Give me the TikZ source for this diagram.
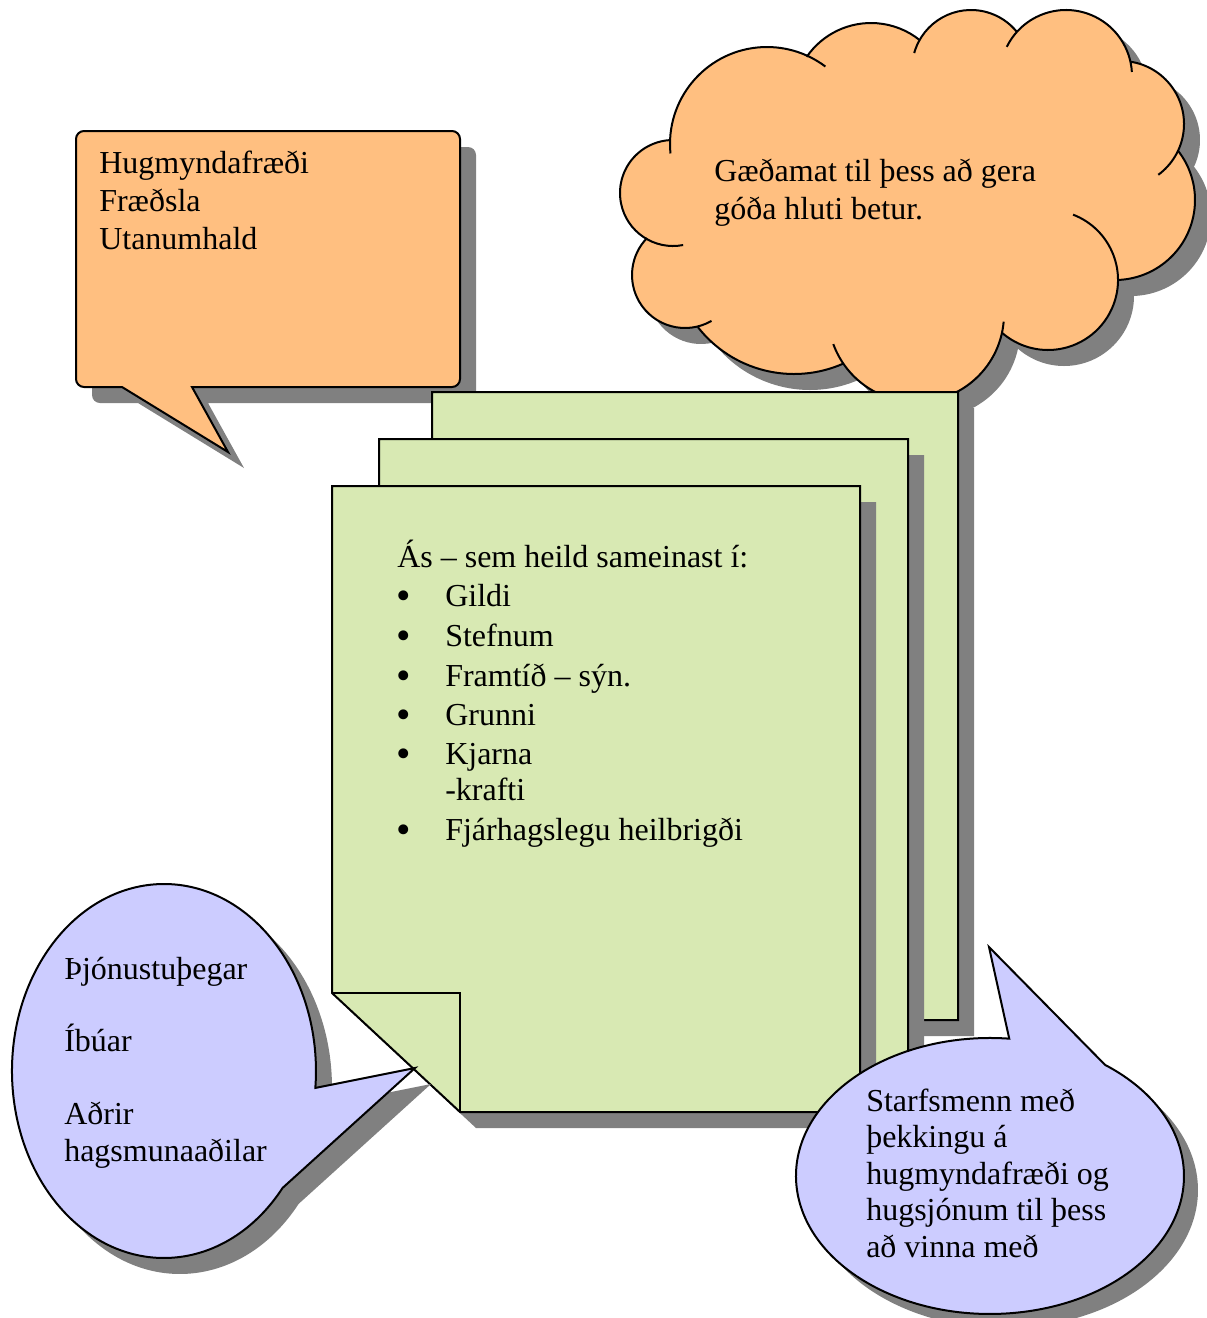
\documentclass[tikz,border=0pt]{standalone}
\usepackage{fontspec}
\setmainfont{Liberation Serif}
\definecolor{orangefill}{RGB}{255,191,128}
\definecolor{pagegreen}{RGB}{216,233,179}
\definecolor{bubbleblue}{RGB}{204,204,255}
\definecolor{shadowgray}{RGB}{128,128,128}
\begin{document}
\begin{tikzpicture}[x=0.75pt,y=-0.75pt,
  outl/.style={draw=black,line width=1.5pt,line join=miter},
  shad/.style={fill=shadowgray,draw=none},
  bigtxt/.style={anchor=base west,inner sep=0pt,align=left,font=\fontsize{24}{28.5}\selectfont},
  doctxt/.style={anchor=base west,inner sep=0pt,font=\fontsize{24}{28.5}\selectfont},
  bul/.style={anchor=base,inner sep=0pt,font=\fontsize{31}{31}\selectfont},
  bubtxt/.style={anchor=base west,inner sep=0pt,align=left,font=\fontsize{24}{27.3}\selectfont},
]
\useasboundingbox (0,0) rectangle (1207,1318);

% ---------- paths ----------
\def\calloutpath{(84,131) -- (452,131) arc[start angle=270,end angle=360,radius=8]
  -- (460,379) arc[start angle=0,end angle=90,radius=8]
  -- (192,387) -- (228,452) -- (122,387)
  -- (84,387) arc[start angle=90,end angle=180,radius=8]
  -- (76,139) arc[start angle=180,end angle=270,radius=8] -- cycle}
\def\cloudpath{([shift={(182.4:97)}]767,144) arc[start angle=182.4,end angle=294.7,radius=97]
  -- ([shift={(214.5:78)}]871,101) arc[start angle=214.5,end angle=308.8,radius=78]
  -- ([shift={(209.6:59)}]971,69) arc[start angle=209.6,end angle=321.2,radius=59]
  -- ([shift={(221.9:66)}]1066,76) arc[start angle=221.9,end angle=347.7,radius=66]
  -- ([shift={(278.3:63)}]1121,124) arc[start angle=278.3,end angle=384.5,radius=63]
  -- ([shift={(321.6:80)}]1115,200) arc[start angle=321.6,end angle=447.9,radius=80]
  -- ([shift={(0:70)}]1048,280) arc[start angle=0,end angle=131,radius=70]
  -- ([shift={(12.5:88)}]916,314) arc[start angle=12.5,end angle=146.1,radius=88]
  -- ([shift={(66.2:122)}]794,252) arc[start angle=66.2,end angle=142,radius=122]
  -- ([shift={(76:53)}]685,275) arc[start angle=76,end angle=224.2,radius=53]
  -- ([shift={(120:53)}]673,193) arc[start angle=120,end angle=266.8,radius=53] -- cycle}
\def\backpage{(432,392) -- (958,392) -- (958,1020) -- (560,1020) -- (432,901) -- cycle}
\def\midpage{(379,439) -- (908,439) -- (908,1066) -- (507,1066) -- (379,947) -- cycle}
\def\frontpage{(332,486) -- (860,486) -- (860,1112) -- (460,1112) -- (332,993) -- cycle}
\def\rbubble{(1105.1,1064.9) arc[start angle=306.4,end angle=635.7,x radius=194,y radius=138] -- (989,947) -- cycle}
\def\lbubble{(282.6,1187.9) arc[start angle=38.7,end angle=365.2,x radius=152,y radius=187] -- (415,1068) -- cycle}

% ---------- top-left callout ----------
\fill[shad,shift={(16,16)}] \calloutpath;
\fill[orangefill] \calloutpath;
\draw[outl] \calloutpath;
\node[bigtxt] (callouttext) at (99,249) {Hugmyndafræði\\Fræðsla\\Utanumhald};

% ---------- cloud ----------
\fill[shad,shift={(16,16)}] \cloudpath;
\fill[orangefill] \cloudpath;
\begin{scope}[outl]
\draw ([shift={(174.4:97)}]767,144) arc[start angle=174.4,end angle=307,radius=97];
\draw ([shift={(214.5:78)}]871,101) arc[start angle=214.5,end angle=308.8,radius=78];
\draw ([shift={(195.7:59)}]971,69) arc[start angle=195.7,end angle=321.2,radius=59];
\draw ([shift={(206.2:66)}]1066,76) arc[start angle=206.2,end angle=356.5,radius=66];
\draw ([shift={(278.3:63)}]1121,124) arc[start angle=278.3,end angle=413.7,radius=63];
\draw ([shift={(321.6:80)}]1115,200) arc[start angle=321.6,end angle=447.9,radius=80];
\draw ([shift={(-69:70)}]1048,280) arc[start angle=-69,end angle=131,radius=70];
\draw ([shift={(5:88)}]916,314) arc[start angle=5,end angle=160,radius=88];
\draw ([shift={(66.2:122)}]794,252) arc[start angle=66.2,end angle=142,radius=122];
\draw ([shift={(60:53)}]685,275) arc[start angle=60,end angle=224.2,radius=53];
\draw ([shift={(79:53)}]673,193) arc[start angle=79,end angle=266.8,radius=53];
\end{scope}
\node[bigtxt] (cloudtext) at (714,219) {Gæðamat til þess að gera\\góða hluti betur.};

% ---------- document stack ----------
\fill[shad,shift={(16,16)}] \backpage;
\filldraw[fill=pagegreen,outl] \backpage;
\fill[shad,shift={(16,16)}] \midpage;
\filldraw[fill=pagegreen,outl] \midpage;
\fill[shad,shift={(16,16)}] \frontpage;
\filldraw[fill=pagegreen,outl] \frontpage;
\draw[outl] (332,993) -- (460,993) -- (460,1112);

\node[doctxt] (dtitle) at (397,567) {Ás – sem heild sameinast í:};
\node[bul] (b1) at (404,609) {•};
\node[doctxt] (d1) at (445,606) {Gildi};
\node[bul] (b2) at (404,649) {•};
\node[doctxt] (d2) at (445,646) {Stefnum};
\node[bul] (b3) at (404,689) {•};
\node[doctxt] (d3) at (445,686) {Framtíð – sýn.};
\node[bul] (b4) at (404,728) {•};
\node[doctxt] (d4) at (445,725) {Grunni};
\node[bul] (b5) at (404,767) {•};
\node[doctxt] (d5) at (445,764) {Kjarna};
\node[doctxt] (d5b) at (445,800) {-krafti};
\node[bul] (b6) at (404,843) {•};
\node[doctxt] (d6) at (445,840) {Fjárhagslegu heilbrigði};

% ---------- left bubble ----------
\fill[shad,shift={(16,16)}] \lbubble;
\fill[bubbleblue] \lbubble;
\draw[outl] \lbubble;
\node[bubtxt] (lefttext) at (64,1161) {Þjónustuþegar\\[27.3pt]Íbúar\\[27.3pt]Aðrir\\hagsmunaaðilar};

% ---------- right bubble ----------
\fill[shad,shift={(14,14)}] \rbubble;
\fill[bubbleblue] \rbubble;
\draw[outl] \rbubble;
\node[bubtxt] (righttext) at (866,1257) {Starfsmenn með\\þekkingu á\\hugmyndafræði og\\hugsjónum til þess\\að vinna með};
\end{tikzpicture}
\end{document}
